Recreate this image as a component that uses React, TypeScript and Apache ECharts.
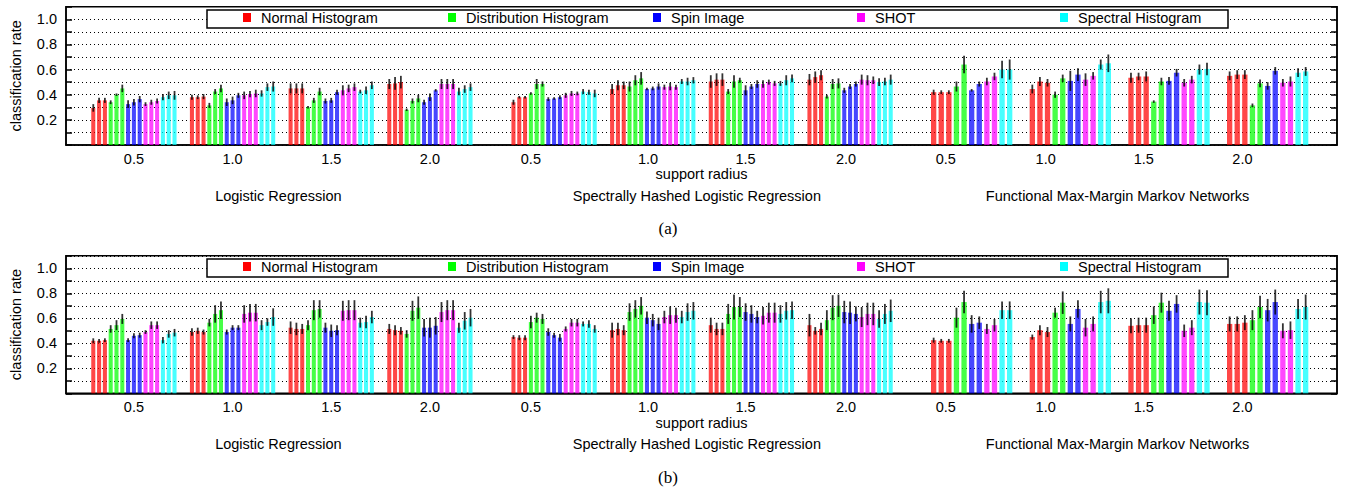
import React, { useEffect, useRef } from 'react';
import * as echarts from 'echarts';

// ---------------- data ----------------
const classifiers = [
  'Logistic Regression',
  'Spectrally Hashed Logistic Regression',
  'Functional Max-Margin Markov Networks',
];
const radii = ['0.5', '1.0', '1.5', '2.0'];
const descriptors = ['Normal Histogram', 'Distribution Histogram', 'Spin Image', 'SHOT', 'Spectral Histogram'];
const descriptorColors = ['#ff0000', '#00ff00', '#0000ff', '#ff00ff', '#00ffff'];
const yTickLabels = ['0.2', '0.4', '0.6', '0.8', '1.0'];

// Each array: 12 groups = 3 classifiers x 4 radii (0.5, 1.0, 1.5, 2.0)
// ---- panel (a) ----
const aNormal = [
  [0.295, 0.355, 0.355], [0.38, 0.38, 0.385], [0.45, 0.45, 0.45], [0.485, 0.49, 0.5],
  [0.34, 0.38, 0.38], [0.445, 0.475, 0.475], [0.505, 0.52, 0.52], [0.52, 0.54, 0.555],
  [0.42, 0.42, 0.42], [0.445, 0.505, 0.495], [0.535, 0.545, 0.545], [0.55, 0.56, 0.56],
];
const aDistribution = [
  [0.34, 0.4, 0.45], [0.315, 0.425, 0.45], [0.3, 0.355, 0.425], [0.28, 0.35, 0.37],
  [0.41, 0.485, 0.485], [0.465, 0.515, 0.53], [0.425, 0.505, 0.515], [0.385, 0.485, 0.49],
  [0.465, 0.64], [0.4, 0.53], [0.345, 0.505], [0.315, 0.49],
];
const aSpin = [
  [0.325, 0.34, 0.365], [0.34, 0.355, 0.395], [0.35, 0.355, 0.42], [0.34, 0.38, 0.435],
  [0.365, 0.37, 0.38], [0.445, 0.45, 0.465], [0.435, 0.465, 0.485], [0.435, 0.465, 0.485],
  [0.435, 0.485], [0.51, 0.56], [0.51, 0.575], [0.47, 0.59],
];
const aShot = [
  [0.325, 0.34, 0.35], [0.395, 0.405, 0.41], [0.435, 0.45, 0.46], [0.485, 0.485, 0.485],
  [0.395, 0.41, 0.41], [0.46, 0.465, 0.46], [0.485, 0.5, 0.49], [0.52, 0.515, 0.515],
  [0.505, 0.545], [0.52, 0.55], [0.495, 0.52], [0.495, 0.505],
];
const aSpectral = [
  [0.38, 0.395, 0.395], [0.41, 0.46, 0.465], [0.425, 0.435, 0.475], [0.425, 0.445, 0.46],
  [0.425, 0.42, 0.41], [0.505, 0.505, 0.515], [0.49, 0.515, 0.53], [0.5, 0.505, 0.52],
  [0.6, 0.6], [0.64, 0.65], [0.6, 0.605], [0.575, 0.585],
];
// error half-lengths, panel (a)
const aNormalErr = [
  [0.03, 0.02, 0.02], [0.02, 0.015, 0.02], [0.04, 0.04, 0.04], [0.04, 0.05, 0.05],
  [0.02, 0.01, 0.01], [0.04, 0.04, 0.03], [0.05, 0.05, 0.05], [0.045, 0.045, 0.04],
  [0.02, 0.015, 0.015], [0.035, 0.035, 0.03], [0.04, 0.03, 0.04], [0.035, 0.035, 0.035],
];
const aDistributionErr = [
  [0.015, 0.01, 0.03], [0.02, 0.02, 0.03], [0.01, 0.02, 0.03], [0.01, 0.02, 0.03],
  [0.01, 0.04, 0.02], [0.04, 0.04, 0.05], [0.02, 0.05, 0.02], [0.015, 0.04, 0.04],
  [0.04, 0.07], [0.025, 0.03], [0.01, 0.03], [0.015, 0.03],
];
const aSpinErr = [
  [0.03, 0.025, 0.025], [0.03, 0.03, 0.02], [0.02, 0.02, 0.02], [0.02, 0.03, 0.01],
  [0.015, 0.01, 0.015], [0.01, 0.015, 0.025], [0.04, 0.02, 0.03], [0.02, 0.02, 0.02],
  [0.01, 0.02], [0.08, 0.05], [0.03, 0.03], [0.03, 0.03],
];
const aShotErr = [
  [0.015, 0.02, 0.02], [0.03, 0.025, 0.03], [0.04, 0.03, 0.03], [0.04, 0.04, 0.04],
  [0.02, 0.02, 0.015], [0.02, 0.03, 0.02], [0.03, 0.02, 0.02], [0.04, 0.04, 0.03],
  [0.03, 0.03], [0.05, 0.03], [0.03, 0.03], [0.03, 0.04],
];
const aSpectralErr = [
  [0.025, 0.03, 0.035], [0.025, 0.03, 0.04], [0.015, 0.03, 0.03], [0.03, 0.03, 0.03],
  [0.02, 0.02, 0.03], [0.02, 0.03, 0.025], [0.02, 0.04, 0.03], [0.03, 0.03, 0.04],
  [0.07, 0.08], [0.04, 0.07], [0.04, 0.05], [0.035, 0.035],
];

// ---- panel (b) ----
const bNormal = [
  [0.42, 0.42, 0.425], [0.49, 0.5, 0.49], [0.525, 0.515, 0.515], [0.515, 0.505, 0.5],
  [0.45, 0.445, 0.445], [0.505, 0.515, 0.505], [0.545, 0.515, 0.515], [0.545, 0.5, 0.515],
  [0.425, 0.42, 0.42], [0.45, 0.505, 0.49], [0.54, 0.545, 0.545], [0.555, 0.555, 0.565],
];
const bDistribution = [
  [0.515, 0.545, 0.595], [0.565, 0.635, 0.665], [0.545, 0.665, 0.675], [0.475, 0.66, 0.685],
  [0.57, 0.605, 0.595], [0.65, 0.675, 0.7], [0.635, 0.69, 0.69], [0.585, 0.685, 0.7],
  [0.605, 0.73], [0.645, 0.725], [0.625, 0.725], [0.585, 0.69],
];
const bSpin = [
  [0.425, 0.46, 0.465], [0.49, 0.525, 0.525], [0.525, 0.5, 0.505], [0.525, 0.525, 0.54],
  [0.49, 0.465, 0.445], [0.605, 0.585, 0.555], [0.65, 0.635, 0.61], [0.65, 0.645, 0.635],
  [0.555, 0.565], [0.555, 0.675], [0.66, 0.715], [0.665, 0.73],
];
const bShot = [
  [0.49, 0.545, 0.545], [0.635, 0.645, 0.645], [0.66, 0.665, 0.665], [0.65, 0.665, 0.665],
  [0.515, 0.565, 0.565], [0.61, 0.625, 0.625], [0.62, 0.645, 0.645], [0.61, 0.635, 0.635],
  [0.515, 0.545], [0.525, 0.555], [0.5, 0.525], [0.5, 0.505],
];
const bSpectral = [
  [0.425, 0.475, 0.485], [0.545, 0.57, 0.61], [0.565, 0.57, 0.61], [0.525, 0.58, 0.605],
  [0.555, 0.555, 0.515], [0.61, 0.65, 0.66], [0.635, 0.66, 0.665], [0.595, 0.635, 0.66],
  [0.665, 0.665], [0.73, 0.74], [0.73, 0.725], [0.675, 0.69],
];
const bNormalErr = [
  [0.02, 0.015, 0.015], [0.03, 0.025, 0.02], [0.05, 0.05, 0.04], [0.04, 0.04, 0.03],
  [0.015, 0.02, 0.02], [0.06, 0.05, 0.04], [0.06, 0.05, 0.05], [0.09, 0.03, 0.05],
  [0.02, 0.015, 0.015], [0.02, 0.04, 0.04], [0.06, 0.06, 0.06], [0.06, 0.06, 0.06],
];
const bDistributionErr = [
  [0.03, 0.04, 0.04], [0.03, 0.07, 0.07], [0.04, 0.08, 0.07], [0.03, 0.08, 0.09],
  [0.05, 0.04, 0.04], [0.07, 0.07, 0.07], [0.08, 0.1, 0.08], [0.08, 0.1, 0.09],
  [0.08, 0.09], [0.04, 0.09], [0.07, 0.08], [0.08, 0.09],
];
const bSpinErr = [
  [0.015, 0.02, 0.02], [0.02, 0.02, 0.02], [0.04, 0.05, 0.04], [0.07, 0.08, 0.07],
  [0.03, 0.02, 0.03], [0.05, 0.05, 0.05], [0.07, 0.07, 0.05], [0.09, 0.09, 0.06],
  [0.07, 0.05], [0.06, 0.07], [0.08, 0.07], [0.09, 0.1],
];
const bShotErr = [
  [0.015, 0.03, 0.03], [0.07, 0.07, 0.07], [0.08, 0.08, 0.08], [0.08, 0.08, 0.08],
  [0.02, 0.03, 0.03], [0.05, 0.07, 0.06], [0.07, 0.08, 0.08], [0.08, 0.09, 0.09],
  [0.04, 0.05], [0.07, 0.06], [0.05, 0.06], [0.06, 0.07],
];
const bSpectralErr = [
  [0.025, 0.03, 0.03], [0.04, 0.03, 0.07], [0.04, 0.05, 0.05], [0.04, 0.07, 0.07],
  [0.02, 0.03, 0.03], [0.05, 0.07, 0.07], [0.07, 0.07, 0.07], [0.07, 0.08, 0.09],
  [0.07, 0.07], [0.09, 0.1], [0.1, 0.1], [0.08, 0.1],
];

// ---------------- layout (axis units: one bar slot) ----------------
const CLASSIFIER_STEP = 72.4;
const RADIUS_STEP = 17;
const PITCH = [1, 1, 1.31];
const BAR_FRAC = 0.7;
const X_MIN = -4.7;
const X_MAX = 214.3;
const radiusLabelPos = [7, 24, 41, 58, 75.4, 95.6, 112.4, 129.7, 146.9, 164.1, 181, 198];
const classifierLabelPos = [31.9, 104, 176.5];

const FONT = "'Liberation Sans', Arial, Helvetica, sans-serif";
const SERIF = "'Liberation Serif', 'Times New Roman', serif";
const FS = 14.5;

const panels = [
  {
    tag: '(a)',
    values: [aNormal, aDistribution, aSpin, aShot, aSpectral],
    errors: [aNormalErr, aDistributionErr, aSpinErr, aShotErr, aSpectralErr],
    top: 6.7, height: 138.3, legendTop: 10, tagY: 228,
  },
  {
    tag: '(b)',
    values: [bNormal, bDistribution, bSpin, bShot, bSpectral],
    errors: [bNormalErr, bDistributionErr, bSpinErr, bShotErr, bSpectralErr],
    top: 255.8, height: 137.5, legendTop: 259, tagY: 477,
  },
];
const legendLefts = [243, 448, 653, 857, 1060];

function nearestLabel(v: number, positions: number[], labels: string[]) {
  let best = 0;
  for (let i = 1; i < positions.length; i++) {
    if (Math.abs(positions[i] - v) < Math.abs(positions[best] - v)) best = i;
  }
  return labels[best];
}

const radiusLabels = classifiers.flatMap(() => radii);

function buildOption() {
  const grid: any[] = [];
  const xAxis: any[] = [];
  const yAxis: any[] = [];
  const series: any[] = [];
  const legend: any[] = [];
  const graphic: any[] = [];

  panels.forEach((p, pi) => {
    grid.push({
      left: 64.5, right: 16, top: p.top, height: p.height,
      show: true, borderColor: '#000', borderWidth: 1.5, backgroundColor: 'transparent',
    });
    xAxis.push({
      type: 'value', gridIndex: pi, min: X_MIN, max: X_MAX, position: 'bottom',
      axisLine: { show: true, onZero: false, lineStyle: { color: '#000', width: 1.5 } },
      axisTick: { show: false },
      splitLine: { show: false },
      axisLabel: {
        customValues: radiusLabelPos,
        formatter: (v: number) => nearestLabel(v, radiusLabelPos, radiusLabels),
        color: '#000', fontFamily: FONT, fontSize: FS, margin: 6,
        showMinLabel: true, showMaxLabel: true,
      },
      name: 'support radius', nameLocation: 'middle', nameGap: 21,
      nameTextStyle: { color: '#000', fontFamily: FONT, fontSize: FS },
    });
    xAxis.push({
      type: 'value', gridIndex: pi, min: X_MIN, max: X_MAX, position: 'bottom', offset: 43,
      axisLine: { show: false, onZero: false }, axisTick: { show: false }, splitLine: { show: false },
      axisLabel: {
        customValues: classifierLabelPos,
        formatter: (v: number) => nearestLabel(v, classifierLabelPos, classifiers),
        color: '#000', fontFamily: FONT, fontSize: FS, margin: 0,
      },
    });
    yAxis.push({
      type: 'value', gridIndex: pi, min: 0, max: 1.1, interval: 0.1, position: 'left',
      axisLine: { show: true, onZero: false, lineStyle: { color: '#000', width: 1.5 } },
      axisTick: { show: true, inside: true, length: 6, lineStyle: { color: '#000', width: 1.5 } },
      splitLine: { show: true, lineStyle: { color: '#000', width: 1, type: [1, 3] } },
      axisLabel: {
        color: '#000', fontFamily: FONT, fontSize: FS, margin: 9,
        formatter: (v: number) => {
          const t = Math.round(v * 10);
          const s = (t / 10).toFixed(1);
          return yTickLabels.includes(s) ? s : '';
        },
      },
      name: 'classification rate', nameLocation: 'middle', nameGap: 43, nameRotate: 90,
      nameTextStyle: { color: '#000', fontFamily: FONT, fontSize: FS },
    });
    yAxis.push({
      type: 'value', gridIndex: pi, min: 0, max: 1.1, interval: 0.1, position: 'right',
      axisLine: { show: true, onZero: false, lineStyle: { color: '#000', width: 1.5 } },
      axisTick: { show: true, inside: true, length: 6, lineStyle: { color: '#000', width: 1.5 } },
      splitLine: { show: false }, axisLabel: { show: false },
    });

    descriptors.forEach((name, d) => {
      const data: number[][] = [];
      for (let g = 0; g < 12; g++) {
        const c = Math.floor(g / 4);
        const r = g % 4;
        let k0 = 0;
        for (let dd = 0; dd < d; dd++) k0 += p.values[dd][g].length;
        p.values[d][g].forEach((v: number, j: number) => {
          const x = c * CLASSIFIER_STEP + r * RADIUS_STEP + (k0 + j) * PITCH[c];
          data.push([x, v, p.errors[d][g][j], BAR_FRAC * PITCH[c]]);
        });
      }
      series.push({
        type: 'custom', name, xAxisIndex: pi * 2, yAxisIndex: pi * 2,
        itemStyle: { color: descriptorColors[d] },
        encode: { x: 0, y: 1 },
        data,
        renderItem: (params: any, api: any) => {
          const x = api.value(0);
          const y = api.value(1);
          const e = api.value(2);
          const w = api.value(3);
          const base = api.coord([x, 0]);
          const top = api.coord([x, y]);
          const hi = api.coord([x, y + e]);
          const lo = api.coord([x, y - e]);
          const bw = api.size([w, 0])[0];
          return {
            type: 'group',
            children: [
              {
                type: 'rect',
                shape: { x: base[0] - bw / 2, y: top[1], width: bw, height: base[1] - top[1] },
                style: { fill: api.visual('color'), opacity: 0.72 },
              },
              {
                type: 'line',
                shape: { x1: top[0], y1: hi[1], x2: top[0], y2: lo[1] },
                style: { stroke: 'rgba(0,0,0,0.8)', lineWidth: 1.8 },
              },
            ],
          };
        },
      });

      legend.push({
        left: legendLefts[d], top: p.legendTop, padding: 0, z: 10,
        data: [name], icon: 'rect', itemWidth: 8, itemHeight: 9, selectedMode: false,
        textStyle: { color: '#000', fontFamily: FONT, fontSize: FS, padding: [0, 0, 0, 5] },
      });
    });

    graphic.push({
      type: 'rect', z: 5,
      shape: { x: 207, y: p.legendTop, width: 1021, height: 18 },
      style: { fill: '#fff', stroke: '#000', lineWidth: 1.5 },
    });
    graphic.push({
      type: 'text', z: 5, x: 668, y: p.tagY,
      style: { text: p.tag, fill: '#000', font: `17px ${SERIF}`, align: 'center', verticalAlign: 'middle' },
    });
  });

  return { animation: false, backgroundColor: '#fff', grid, xAxis, yAxis, series, legend, graphic };
}

export default function App() {
  const ref = useRef<HTMLDivElement>(null);
  useEffect(() => {
    if (!ref.current) return;
    const chart = echarts.init(ref.current, undefined, { renderer: 'svg' });
    chart.setOption(buildOption());
    return () => chart.dispose();
  }, []);
  return (
    <div
      ref={ref}
      style={{ position: 'fixed', left: 0, top: 0, width: 1353, height: 489, background: '#fff' }}
    />
  );
}
